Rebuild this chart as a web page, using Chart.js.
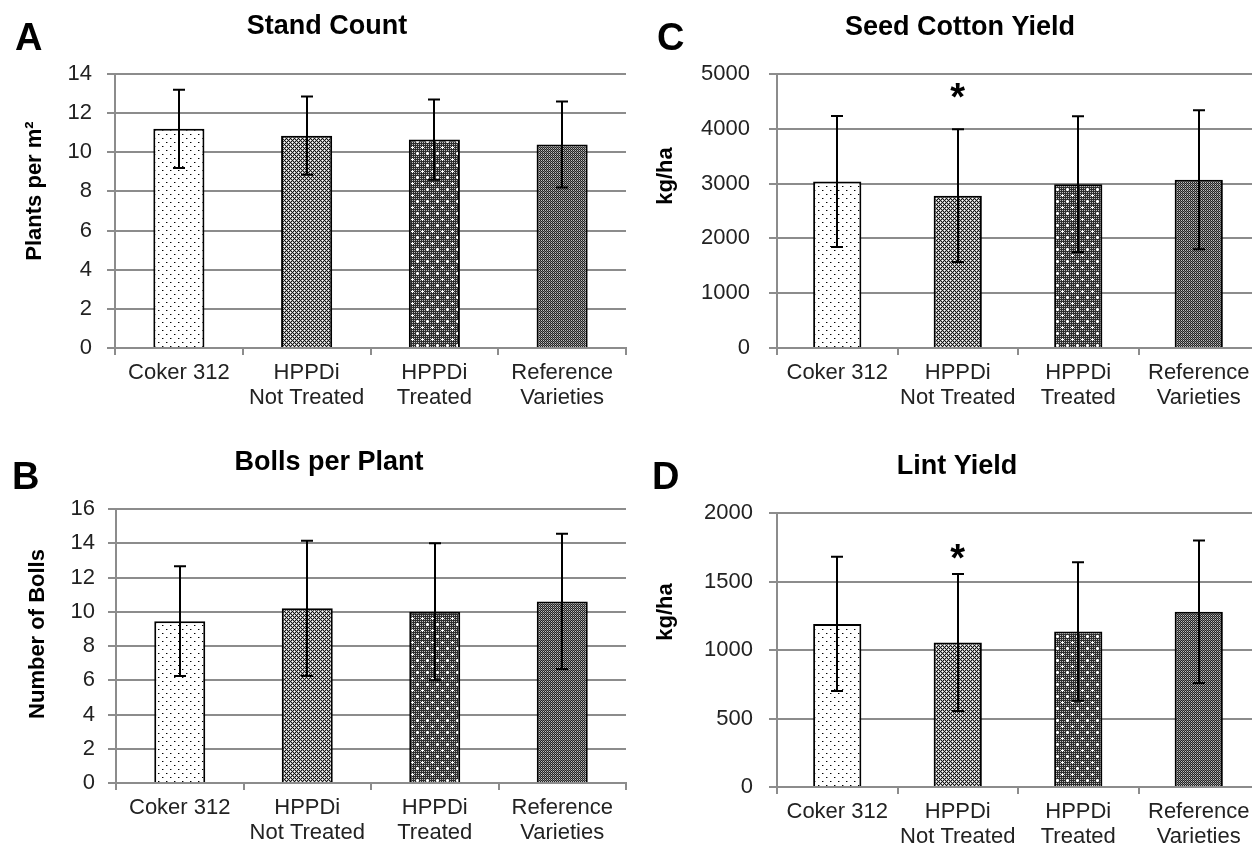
<!DOCTYPE html>
<html><head><meta charset="utf-8">
<script src="https://cdn.jsdelivr.net/npm/chart.js@4.4.1/dist/chart.umd.min.js"></script>
<style>
html,body{margin:0;padding:0;background:#fff;overflow:hidden;width:1252px;height:846px;position:relative;}
canvas{position:absolute;}
</style></head><body>
<canvas id="cA" width="640" height="423" style="left:0px;top:0px;width:640px;height:423px"></canvas>
<canvas id="cB" width="640" height="423" style="left:0px;top:423px;width:640px;height:423px"></canvas>
<canvas id="cC" width="632" height="423" style="left:640px;top:0px;width:632px;height:423px"></canvas>
<canvas id="cD" width="632" height="423" style="left:640px;top:423px;width:632px;height:423px"></canvas>
<script>
// ---------- data ----------
const categories = ['Coker 312', ['HPPDi', 'Not Treated'], ['HPPDi', 'Treated'], ['Reference', 'Varieties']];
const standCount = [11.2, 10.85, 10.65, 10.4];
const standCountErr = [2.0, 2.0, 2.05, 2.2];
const bollsPerPlant = [9.45, 10.2, 10.0, 10.6];
const bollsPerPlantErr = [3.2, 3.95, 4.0, 3.95];
const seedCottonYield = [3040, 2780, 2990, 3070];
const seedCottonYieldErr = [1195, 1210, 1240, 1270];
const lintYield = [1190, 1055, 1135, 1280];
const lintYieldErr = [490, 500, 505, 520];
const seedCottonStar = [null, 4650, null, null];
const lintStar = [null, 1700, null, null];
const panelLetters = ['A', 'B', 'C', 'D'];
const panelTitles = ['Stand Count', 'Bolls per Plant', 'Seed Cotton Yield', 'Lint Yield'];
const yTitles = ['Plants per m²', 'Number of Bolls', 'kg/ha', 'kg/ha'];
const yMaxes = [14, 16, 5000, 2000];
const ySteps = [2, 2, 1000, 500];

// ---------- styling / layout ----------
const FONT = "'Liberation Sans', Arial, sans-serif";
const GRID = '#8c8c8c';
const layouts = [
  {id:'cA', w:640, area:{l:115, r:626, t:74, b:348}, tickPad:15, letter:[15,50], title:[327,27], ytitle:[35,191]},
  {id:'cB', w:640, area:{l:116, r:626, t:86, b:360}, tickPad:13, letter:[12,66], title:[329,40], ytitle:[38,211]},
  {id:'cC', w:632, area:{l:137, r:619, t:74, b:348}, tickPad:19, letter:[17,50], title:[320,28], ytitle:[26,176]},
  {id:'cD', w:632, area:{l:137, r:619, t:90, b:364}, tickPad:16, letter:[12,66], title:[317,44], ytitle:[26,189]}
];
const H = 423, XAXIS_H = 62;

function makeTile(w, h, fn) {
  const c = document.createElement('canvas'); c.width = w; c.height = h;
  const x = c.getContext('2d'); const img = x.createImageData(w, h);
  for (let j = 0; j < h; j++) for (let i = 0; i < w; i++) {
    const v = fn(i, j); const k = (j * w + i) * 4;
    img.data[k] = img.data[k+1] = img.data[k+2] = v; img.data[k+3] = 255;
  }
  x.putImageData(img, 0, 0); return c;
}
function patterns(ctx) {
  const dots = makeTile(8, 8, (i, j) => {
    if ((i === 2 && j === 2) || (i === 6 && j === 6)) return 0;
    if ((i === 3 && j === 2) || (i === 7 && j === 6)) return 150;
    return 255;
  });
  const diamond = makeTile(4, 4, (i, j) => {
    if (((i + j) % 4 === 0) || ((i - j + 8) % 4 === 0)) return 20;
    if ((i === 2 && j === 0) || (i === 0 && j === 2)) return 255;
    return 175;
  });
  const darkDots = makeTile(10, 12, (i, j) => {
    const w1 = (i === 2 && (j >= 2 && j <= 4)) || (j === 3 && (i >= 1 && i <= 3));
    const w2 = (i === 7 && (j >= 8 && j <= 10)) || (j === 9 && (i >= 6 && i <= 8));
    if (w1 || w2) return 255;
    return ((i % 2 === 0) && (j % 2 === 0)) ? 190 : 45;
  });
  const fine = makeTile(2, 2, (i, j) => ((i + j) % 2 === 0) ? 35 : ((i === 0) ? 120 : 190));
  return [dots, diamond, darkDots, fine].map(t => ctx.createPattern(t, 'repeat'));
}

const decor = {
  id: 'decor',
  afterDatasetsDraw(chart, args, o) {
    const ctx = chart.ctx, meta = chart.getDatasetMeta(0), ys = chart.scales.y;
    const vals = chart.data.datasets[0].data;
    ctx.save();
    ctx.strokeStyle = '#000'; ctx.lineWidth = 2;
    o.errors.forEach((e, i) => {
      const x = Math.round(meta.data[i].x);
      const yt = ys.getPixelForValue(vals[i] + e), yb = ys.getPixelForValue(vals[i] - e);
      ctx.beginPath();
      ctx.moveTo(x, yt); ctx.lineTo(x, yb);
      ctx.moveTo(x - 6, yt); ctx.lineTo(x + 6, yt);
      ctx.moveTo(x - 6, yb); ctx.lineTo(x + 6, yb);
      ctx.stroke();
    });
    if (o.stars) {
      ctx.fillStyle = '#000'; ctx.font = 'bold 38px ' + FONT;
      ctx.textAlign = 'center'; ctx.textBaseline = 'alphabetic';
      o.stars.forEach((s, i) => {
        if (s == null) return;
        const x = meta.data[i].x, y = ys.getPixelForValue(s);
        ctx.fillText('*', x, y + 0.45 * 38);
      });
    }
    ctx.restore();
  },
  afterDraw(chart, args, o) {
    const ctx = chart.ctx; const L = o.layout;
    ctx.save(); ctx.fillStyle = '#000';
    ctx.font = 'bold 38px ' + FONT; ctx.textAlign = 'left'; ctx.textBaseline = 'alphabetic';
    ctx.fillText(o.letter, L.letter[0], L.letter[1]);
    ctx.font = 'bold 27px ' + FONT; ctx.textAlign = 'center'; ctx.textBaseline = 'middle';
    ctx.fillText(o.title, L.title[0], L.title[1]);
    ctx.translate(L.ytitle[0], L.ytitle[1]); ctx.rotate(-Math.PI / 2);
    ctx.font = 'bold 22px ' + FONT;
    ctx.fillText(o.ytitle, 0, 0);
    ctx.restore();
  }
};

const series = [
  [standCount, standCountErr, null],
  [bollsPerPlant, bollsPerPlantErr, null],
  [seedCottonYield, seedCottonYieldErr, seedCottonStar],
  [lintYield, lintYieldErr, lintStar]
];

layouts.forEach((L, k) => {
  const cv = document.getElementById(L.id);
  const ctx = cv.getContext('2d');
  const pats = patterns(ctx);
  const [vals, errs, stars] = series[k];
  new Chart(ctx, {
    type: 'bar',
    data: {
      labels: categories,
      datasets: [{
        data: vals,
        backgroundColor: pats,
        borderColor: '#000',
        borderWidth: 2,
        borderSkipped: 'start',
        barPercentage: 0.4,
        categoryPercentage: 1.0
      }]
    },
    options: {
      responsive: false, animation: false, devicePixelRatio: 1,
      layout: { padding: { left: 0, right: L.w - L.area.r, top: L.area.t, bottom: H - L.area.b - XAXIS_H } },
      plugins: {
        legend: { display: false }, tooltip: { enabled: false },
        decor: { errors: errs, stars: stars, letter: panelLetters[k], title: panelTitles[k], ytitle: yTitles[k], layout: L }
      },
      scales: {
        x: {
          offset: true,
          grid: { display: true, drawOnChartArea: false, drawTicks: true, tickLength: 7, offset: true, color: GRID, lineWidth: 2 },
          border: { display: true, color: GRID, width: 2 },
          ticks: { color: '#222', font: { family: FONT, size: 22, lineHeight: 1.12 }, padding: 6, maxRotation: 0, autoSkip: false },
          afterFit(s) { s.height = XAXIS_H; }
        },
        y: {
          min: 0, max: yMaxes[k],
          ticks: { stepSize: ySteps[k], color: '#222', font: { family: FONT, size: 22 }, padding: L.tickPad, callback: v => String(v) },
          grid: { color: GRID, lineWidth: 2, tickLength: 8, drawTicks: true },
          border: { display: true, color: GRID, width: 2 },
          afterFit(s) { s.width = L.area.l; }
        }
      }
    },
    plugins: [decor]
  });
});
</script>
</body></html>
